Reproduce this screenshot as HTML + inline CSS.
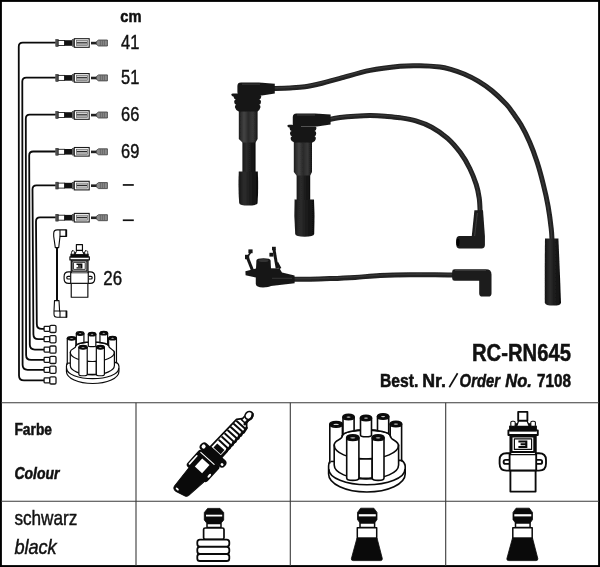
<!DOCTYPE html>
<html>
<head>
<meta charset="utf-8">
<title>RC-RN645</title>
<style>
html,body{margin:0;padding:0;background:#fff;}
body{width:600px;height:567px;overflow:hidden;font-family:"Liberation Sans",sans-serif;}
svg{display:block;will-change:transform;}
text{font-family:"Liberation Sans",sans-serif;fill:#111;}
.b{font-weight:bold;}
.i{font-style:italic;}
</style>
</head>
<body>
<svg width="600" height="567" viewBox="0 0 600 567">
<rect x="0" y="0" width="600" height="567" fill="#fff"/>
<!-- FRAME -->
<g id="frame" fill="none" stroke="#000">
<rect x="0.95" y="0.95" width="598.1" height="565.1" stroke-width="1.9"/>
<g stroke="#3a3a3a" stroke-width="1.1">
<line x1="1" y1="402.8" x2="599" y2="402.8"/>
<line x1="1" y1="501.2" x2="599" y2="501.2"/>
<line x1="136" y1="402.8" x2="136" y2="566"/>
<line x1="290.3" y1="402.8" x2="290.3" y2="566"/>
<line x1="445.7" y1="402.8" x2="445.7" y2="566"/>
</g>
</g>
<!-- TEXT -->
<g id="labels" stroke="#111" stroke-width="0.55">
<text class="b" x="120.3" y="22.4" font-size="17" textLength="21.2" lengthAdjust="spacingAndGlyphs">cm</text>
<g stroke-width="0.45">
<text x="121.1" y="49.0" font-size="20.4" textLength="18.3" lengthAdjust="spacingAndGlyphs">41</text>
<text x="121.1" y="83.8" font-size="20.4" textLength="18.3" lengthAdjust="spacingAndGlyphs">51</text>
<text x="121.1" y="121.1" font-size="20.4" textLength="18.3" lengthAdjust="spacingAndGlyphs">66</text>
<text x="121.1" y="157.9" font-size="20.4" textLength="18.3" lengthAdjust="spacingAndGlyphs">69</text>
<rect x="122.8" y="184.1" width="11" height="1.7" fill="#111" stroke="none"/>
<rect x="122.8" y="219.4" width="11" height="1.7" fill="#111" stroke="none"/>
<text x="103.3" y="284.8" font-size="20.4" textLength="18.8" lengthAdjust="spacingAndGlyphs">26</text>
<text x="14.4" y="525" font-size="20.2" textLength="63" lengthAdjust="spacingAndGlyphs">schwarz</text>
<text class="i" x="14.4" y="553.9" font-size="20.2" textLength="42.3" lengthAdjust="spacingAndGlyphs">black</text>
</g>
<text class="b" x="472" y="360.7" font-size="24.1" textLength="99" lengthAdjust="spacingAndGlyphs" stroke-width="0.5">RC-RN645</text>
<text class="b" x="380" y="386.9" font-size="18.6" textLength="38.3" lengthAdjust="spacingAndGlyphs">Best.</text>
<text class="b" x="422.3" y="386.9" font-size="18.6" textLength="23.7" lengthAdjust="spacingAndGlyphs">Nr.</text>
<line x1="449.3" y1="387.3" x2="457.6" y2="373.3" stroke-width="1.7"/>
<text class="b i" x="459.6" y="386.9" font-size="18.6" textLength="40.4" lengthAdjust="spacingAndGlyphs">Order</text>
<text class="b i" x="505.3" y="386.9" font-size="18.6" textLength="26.6" lengthAdjust="spacingAndGlyphs">No.</text>
<text class="b" x="537" y="386.9" font-size="18.6" textLength="34" lengthAdjust="spacingAndGlyphs">7108</text>
<text class="b" x="14.4" y="434.8" font-size="16.9" textLength="37.6" lengthAdjust="spacingAndGlyphs">Farbe</text>
<text class="b i" x="14.4" y="479.2" font-size="16.9" textLength="45" lengthAdjust="spacingAndGlyphs">Colour</text>
</g>
<!-- WIRING-DIAGRAM -->
<g id="wiring">
<defs>
<g id="conn">
<rect x="55.8" y="-3.4" width="2.4" height="6.8" fill="#555" stroke="#222" stroke-width="0.6"/>
<rect x="58.2" y="-2.5" width="6.4" height="5" fill="#fff" stroke="#222" stroke-width="0.9"/>
<rect x="64.4" y="-2.8" width="7.8" height="5.6" fill="#111"/>
<rect x="72.2" y="-3.3" width="1.8" height="6.6" fill="#777" stroke="#333" stroke-width="0.5"/>
<rect x="74.3" y="-4.3" width="14.9" height="8.6" fill="#fff" stroke="#1a1a1a" stroke-width="1.1"/>
<rect x="76.4" y="-2.5" width="11" height="5" fill="#d0d0d0" stroke="#666" stroke-width="0.7"/>
<line x1="76.8" y1="-0.2" x2="87" y2="-0.2" stroke="#2a2a2a" stroke-width="1.2"/>
<line x1="76.8" y1="1.5" x2="87" y2="1.5" stroke="#999" stroke-width="0.7"/>
<rect x="91" y="-1.2" width="5.6" height="2.6" fill="#222"/>
<path d="M96.4,-1.4L98.6,-3H107.4V3H98.6L96.4,1.4Z" fill="#8a8a8a" stroke="#3a3a3a" stroke-width="0.8"/>
<path d="M100.4,-2.7V2.7M102.4,-2.7V2.7M104.4,-2.7V2.7" stroke="#5a5a5a" stroke-width="0.7" fill="none"/>
</g>
<g id="coil" fill="#fff" stroke="#0a0a0a" stroke-linejoin="round" stroke-linecap="round">
<!-- lower body -->
<path d="M510.4,470.5V491.6H535.6V470.5"/>
<!-- bracket -->
<path d="M510,453.2H506.5Q499.6,453.2 499.6,460V463.5Q499.6,470.6 506.5,470.6H539Q546,470.6 546,463.5V460Q546,453.2 539,453.2H536"/>
<path d="M508.6,459.9H505.6Q503.6,459.9 503.6,461.9Q503.6,463.9 505.6,463.9H508.6" />
<path d="M537.4,459.9H540.2Q542.2,459.9 542.2,461.9Q542.2,463.9 540.2,463.9H537.4"/>
<rect x="509.6" y="454.2" width="26.6" height="16.2"/>
<!-- upper body -->
<path d="M510.4,454V435H535.8V454"/>
<rect x="511.6" y="436.6" width="22.6" height="15.4" />
<rect x="514.4" y="438.8" width="17.2" height="10.6" stroke-width="1.2"/>
<path d="M518.4,441.5H526.3V447H518.4M520.6,444.2H526.3" fill="none" stroke-width="2.1" stroke-linecap="butt" stroke-linejoin="miter"/>
<!-- lid -->
<rect x="508.4" y="430.4" width="29.4" height="4.6"/>
<rect x="510" y="426.3" width="26" height="4.2" fill="#0a0a0a"/>
<rect x="511.6" y="423.2" width="22.8" height="4" fill="#0a0a0a" stroke="none"/>
<!-- terminals -->
<rect x="510.8" y="421.2" width="4.4" height="5.2" rx="1.4" stroke-width="1.1"/>
<rect x="530.8" y="421.2" width="4.6" height="5.2" rx="1.4" stroke-width="1.1"/>
<!-- tower -->
<path d="M516.6,426.4L518.6,420.8H527L529.4,426.4Z" stroke-width="1.3"/>
<rect x="518.2" y="411.8" width="9.2" height="8.8"/>
</g>
<g id="cap" fill="#fff" stroke="#0a0a0a" stroke-linejoin="round" stroke-linecap="round">
<path d="M329.8,461.5Q328.6,463 328.6,466V474A38.3,18 0 0 0 405.2,474V466Q405.2,463 401.5,460.2Z"/>
<path d="M328.9,469.5A37.9,15.2 0 0 0 404.9,469.5" fill="none"/>
<path d="M329.8,424.3V463L342.4,436V424.3Z" stroke="none"/>
<path d="M329.8,424.3V463M342.4,436V424.3" fill="none"/>
<ellipse cx="336.10" cy="424.30" rx="6.30" ry="2.8" fill="#0a0a0a"/>
<ellipse cx="336.10" cy="424.40" rx="2.80" ry="0.65" fill="#cfcfcf" stroke="none"/>
<path d="M390.2,424.0V436L401.6,461V424.0Z" stroke="none"/>
<path d="M390.2,424.0V436M401.6,461V424.0" fill="none"/>
<ellipse cx="395.90" cy="424.00" rx="5.70" ry="2.8" fill="#0a0a0a"/>
<ellipse cx="395.90" cy="424.10" rx="2.20" ry="0.65" fill="#cfcfcf" stroke="none"/>
<path d="M342.4,435.4C342.4,440.5 334.2,439.5 334.2,445V465A32.2,14 0 0 0 398.6,465V446C398.6,440 390.2,440.5 390.2,435.4A24,6.1 0 0 0 342.4,435.4Z"/>
<path d="M334.2,445A32.2,14 0 0 0 398.6,445" fill="none"/>
<path d="M343,417.0V433L354.1,430.2V417.0Z" stroke="none"/>
<path d="M343,417.0V433M354.1,430.2V417.0" fill="none"/>
<ellipse cx="348.55" cy="417.00" rx="5.55" ry="2.8" fill="#0a0a0a"/>
<ellipse cx="348.55" cy="417.10" rx="2.05" ry="0.65" fill="#cfcfcf" stroke="none"/>
<path d="M377.5,416.5V430.4L388.7,432.6V416.5Z" stroke="none"/>
<path d="M377.5,416.5V430.4M388.7,432.6V416.5" fill="none"/>
<ellipse cx="383.10" cy="416.50" rx="5.60" ry="2.8" fill="#0a0a0a"/>
<ellipse cx="383.10" cy="416.60" rx="2.10" ry="0.65" fill="#cfcfcf" stroke="none"/>
<path d="M342.4,435.4A24,6.1 0 0 1 390.2,435.4" fill="none"/>
<path d="M360.5,418.0V435.2A5.50,1.6 0 0 0 371.5,435.2V418.0Z"/>
<ellipse cx="366.00" cy="418.00" rx="5.50" ry="2.8" fill="#0a0a0a"/>
<ellipse cx="366.00" cy="418.10" rx="2.00" ry="0.65" fill="#cfcfcf" stroke="none"/>
<path d="M358.9,458.6Q365.5,459.3 372.2,458.6V477.8Q365.5,478.9 358.9,477.8Z"/>
<path d="M346.7,437.7V478A6.10,2.4 0 0 0 358.9,478V437.7Z"/>
<ellipse cx="352.80" cy="437.70" rx="6.10" ry="2.8" fill="#0a0a0a"/>
<ellipse cx="352.80" cy="437.80" rx="2.60" ry="0.65" fill="#cfcfcf" stroke="none"/>
<path d="M372.2,437.7V478A5.90,2.4 0 0 0 384,478V437.7Z"/>
<ellipse cx="378.10" cy="437.70" rx="5.90" ry="2.8" fill="#0a0a0a"/>
<ellipse cx="378.10" cy="437.80" rx="2.40" ry="0.65" fill="#cfcfcf" stroke="none"/>
</g>
<g id="bconn">
<rect x="44.1" y="-2.5" width="5.6" height="5" rx="0.8" fill="#fff" stroke="#151515" stroke-width="1.3"/>
<rect x="49.8" y="-3.6" width="6.2" height="7.2" rx="1.3" fill="#fff" stroke="#151515" stroke-width="1.3"/>
</g>
</defs>
<g fill="none" stroke="#0a0a0a" stroke-width="1.8">
<path d="M55.6,42.7 H22.75 Q18.75,42.7 18.75,46.70 L19.0,375.40 Q19.0,380.4 24.00,380.4 H44"/>
<path d="M55.6,77.6 H26.30 Q22.3,77.6 22.3,81.60 L22.6,364.80 Q22.6,369.8 27.60,369.8 H44"/>
<path d="M55.6,114.7 H29.80 Q25.8,114.7 25.8,118.70 L26.1,354.90 Q26.1,359.9 31.10,359.9 H44"/>
<path d="M55.6,151.5 H33.20 Q29.2,151.5 29.2,155.50 L29.8,344.60 Q29.8,349.6 34.80,349.6 H44"/>
<path d="M55.6,185.3 H36.50 Q32.5,185.3 32.5,189.30 L33.4,334.20 Q33.4,339.2 38.40,339.2 H44"/>
<path d="M55.6,217.4 H40.00 Q36.0,217.4 36.0,221.40 L36.8,323.90 Q36.8,328.9 41.80,328.9 H44"/>
</g>
<use href="#conn" y="43.0"/>
<use href="#conn" y="77.9"/>
<use href="#conn" y="115.0"/>
<use href="#conn" y="151.8"/>
<use href="#conn" y="185.6"/>
<use href="#conn" y="217.7"/>
<use href="#bconn" y="380.4"/>
<use href="#bconn" y="369.8"/>
<use href="#bconn" y="359.9"/>
<use href="#bconn" y="349.6"/>
<use href="#bconn" y="339.2"/>
<use href="#bconn" y="328.9"/>
</g>
<g stroke-width="1.75" transform="translate(-265.63,-27.19) scale(0.66)"><use href="#coil"/></g>
<g id="coil-lead" fill="#fff" stroke="#0a0a0a" stroke-width="1.1" stroke-linejoin="round">
<line x1="57" y1="247" x2="57" y2="301" stroke-width="2"/>
<path d="M66.2,229.9H57.2Q53.7,229.9 53.7,233.4V236.4L55.3,247.6H58.7L60,236.4H66.2Z"/>
<path d="M60,229.9V236.4" fill="none"/>
<path d="M66.3,229.6V236.7" stroke-width="1.7" fill="none"/>
<path d="M66.4,317.3H57.2Q54,317.3 54,314V311L54.5,300.6H59L59.6,311H66.4Z"/>
<path d="M60,311V317.3M54,311H59.6" fill="none"/>
<path d="M66.5,310.7V317.6" stroke-width="1.7" fill="none"/>
</g>
<g stroke-width="1.75" transform="translate(-158.63,55.36) scale(0.685,0.667)"><use href="#cap"/></g>
<!-- /WIRING-DIAGRAM -->
<!-- PHOTO -->
<g id="photo" filter="url(#soft)">
<defs>
<filter id="soft" x="220" y="50" width="360" height="270" filterUnits="userSpaceOnUse"><feGaussianBlur stdDeviation="0.35"/></filter>
<linearGradient id="gv" x1="0" y1="0" x2="1" y2="0">
<stop offset="0" stop-color="#161616"/><stop offset="0.3" stop-color="#2c2c2c"/><stop offset="0.6" stop-color="#1c1c1c"/><stop offset="1" stop-color="#0e0e0e"/>
</linearGradient>
<linearGradient id="gv2" x1="0" y1="0" x2="1" y2="0">
<stop offset="0" stop-color="#1c1c1c"/><stop offset="0.28" stop-color="#444"/><stop offset="0.5" stop-color="#2a2a2a"/><stop offset="0.75" stop-color="#383838"/><stop offset="1" stop-color="#161616"/>
</linearGradient>
<linearGradient id="gh" x1="0" y1="0" x2="0" y2="1">
<stop offset="0" stop-color="#161616"/><stop offset="0.35" stop-color="#333"/><stop offset="1" stop-color="#0c0c0c"/>
</linearGradient>
</defs>
<path d="M272.0,88.6C275.0,88.5 284.5,88.3 290.0,88.0C295.5,87.7 299.7,87.6 305.0,86.8C310.3,86.0 316.2,84.6 322.0,83.2C327.8,81.8 332.0,80.5 340.0,78.4C348.0,76.3 360.0,72.4 370.0,70.4C380.0,68.4 391.7,67.1 400.0,66.3C408.3,65.5 413.3,65.7 420.0,65.8C426.7,65.9 435.0,66.5 440.0,67.0C445.0,67.5 446.0,67.9 450.0,69.1C454.0,70.3 459.4,72.0 464.1,74.0C468.8,76.0 473.5,78.3 478.2,81.1C482.9,83.9 487.6,87.1 492.3,91.0C497.0,94.9 502.9,100.7 506.4,104.4C509.8,108.1 510.6,109.6 513.0,113.0C515.4,116.4 518.2,119.9 521.0,124.7C523.8,129.5 526.9,135.8 529.6,142.0C532.3,148.2 534.7,154.7 537.0,161.7C539.3,168.7 541.4,176.6 543.2,184.0C545.1,191.4 546.8,198.8 548.1,206.2C549.4,213.6 550.6,222.8 551.2,228.4C551.9,234.0 551.9,238.1 552.0,240.0" fill="none" stroke="#202020" stroke-width="5" stroke-linecap="round"/>
<path d="M272.0,88.6C275.0,88.5 284.5,88.3 290.0,88.0C295.5,87.7 299.7,87.6 305.0,86.8C310.3,86.0 316.2,84.6 322.0,83.2C327.8,81.8 332.0,80.5 340.0,78.4C348.0,76.3 360.0,72.4 370.0,70.4C380.0,68.4 391.7,67.1 400.0,66.3C408.3,65.5 413.3,65.7 420.0,65.8C426.7,65.9 435.0,66.5 440.0,67.0C445.0,67.5 446.0,67.9 450.0,69.1C454.0,70.3 459.4,72.0 464.1,74.0C468.8,76.0 473.5,78.3 478.2,81.1C482.9,83.9 487.6,87.1 492.3,91.0C497.0,94.9 502.9,100.7 506.4,104.4C509.8,108.1 510.6,109.6 513.0,113.0C515.4,116.4 518.2,119.9 521.0,124.7C523.8,129.5 526.9,135.8 529.6,142.0C532.3,148.2 534.7,154.7 537.0,161.7C539.3,168.7 541.4,176.6 543.2,184.0C545.1,191.4 546.8,198.8 548.1,206.2C549.4,213.6 550.6,222.8 551.2,228.4C551.9,234.0 551.9,238.1 552.0,240.0" fill="none" stroke="#343434" stroke-width="1.6" stroke-linecap="round" transform="translate(-0.3,-0.6)"/>
<path d="M328.0,119.8C330.0,119.4 335.5,118.2 340.0,117.6C344.5,117.0 350.0,116.5 355.0,116.2C360.0,115.9 365.0,115.6 370.0,115.6C375.0,115.6 380.0,115.8 385.0,116.2C390.0,116.6 394.9,116.9 400.0,117.7C405.1,118.5 410.6,119.3 415.9,120.9C421.2,122.5 426.4,124.3 431.7,127.2C437.0,130.1 442.8,134.1 447.6,138.3C452.4,142.5 456.6,147.6 460.3,152.6C464.0,157.6 467.2,163.2 469.8,168.5C472.4,173.8 474.6,179.5 476.2,184.4C477.8,189.3 478.5,193.4 479.2,198.0C479.9,202.6 480.0,209.7 480.1,212.0" fill="none" stroke="#202020" stroke-width="5" stroke-linecap="round"/>
<path d="M328.0,119.8C330.0,119.4 335.5,118.2 340.0,117.6C344.5,117.0 350.0,116.5 355.0,116.2C360.0,115.9 365.0,115.6 370.0,115.6C375.0,115.6 380.0,115.8 385.0,116.2C390.0,116.6 394.9,116.9 400.0,117.7C405.1,118.5 410.6,119.3 415.9,120.9C421.2,122.5 426.4,124.3 431.7,127.2C437.0,130.1 442.8,134.1 447.6,138.3C452.4,142.5 456.6,147.6 460.3,152.6C464.0,157.6 467.2,163.2 469.8,168.5C472.4,173.8 474.6,179.5 476.2,184.4C477.8,189.3 478.5,193.4 479.2,198.0C479.9,202.6 480.0,209.7 480.1,212.0" fill="none" stroke="#343434" stroke-width="1.6" stroke-linecap="round" transform="translate(-0.3,-0.6)"/>
<path d="M292.0,279.2C295.0,279.2 303.7,279.3 310.0,279.2C316.3,279.1 322.5,278.9 330.0,278.6C337.5,278.3 346.7,277.9 355.0,277.4C363.3,276.9 370.8,276.0 380.0,275.6C389.2,275.2 400.8,274.9 410.0,274.8C419.2,274.7 427.7,274.8 435.0,274.8C442.3,274.8 450.8,275.0 454.0,275.0" fill="none" stroke="#202020" stroke-width="5" stroke-linecap="round"/>
<path d="M292.0,279.2C295.0,279.2 303.7,279.3 310.0,279.2C316.3,279.1 322.5,278.9 330.0,278.6C337.5,278.3 346.7,277.9 355.0,277.4C363.3,276.9 370.8,276.0 380.0,275.6C389.2,275.2 400.8,274.9 410.0,274.8C419.2,274.7 427.7,274.8 435.0,274.8C442.3,274.8 450.8,275.0 454.0,275.0" fill="none" stroke="#343434" stroke-width="1.6" stroke-linecap="round" transform="translate(-0.3,-0.6)"/>
<g id="pboot1">
<path d="M242.4,140H255.6V172H242.4Z" fill="url(#gv)"/>
<path d="M238.8,111H257.6V139L255.6,142.5H242.4L238.8,139Z" fill="url(#gv2)"/>
<path d="M238.8,171.5H257.8Q258.6,188 257.6,203Q257,205.6 248.3,205.6Q239.6,205.6 239.2,203Q238,188 238.8,171.5Z" fill="url(#gv)"/>
<path d="M233.6,97Q233.2,95 235.2,95H259.6Q261.6,95 261.2,97Q260.8,99.2 259.2,99.6Q261.2,100 261,102Q260.8,104.4 259.2,104.8Q260.8,105.4 260.4,107.6Q259.8,110.4 257.4,111.4H238.8Q235.6,110.4 235,107.6Q234.6,105.4 236.2,104.8Q234.4,104.4 234.2,102Q234,100 235.8,99.6Q234,99.2 233.6,97Z" fill="#161616"/>
<path d="M231.4,94.6Q231.4,93.6 233,93.6H246V96.4H233Q231.4,96.2 231.4,94.6Z" fill="#151515"/>
<path d="M237.4,86Q237.4,82.6 241,82.6H259L274.8,83.8V93.6L262,95.4H241Q237.4,95.4 237.4,92Z" fill="#181818"/>
<path d="M242,84.2H260" stroke="#3a3a3a" stroke-width="1" fill="none"/>
</g>
<g id="pboot2">
<path d="M296.6,173H310.2V200H296.6Z" fill="url(#gv)"/>
<path d="M293.8,142H312V172L310.2,175.5H296.6L293.8,172Z" fill="url(#gv2)"/>
<path d="M294.8,199.6H314Q315,216 314.2,234Q313.6,236.8 304.6,236.8Q295.6,236.8 295.2,234Q293.8,216 294.6,198.6Z" fill="url(#gv)"/>
<path d="M289.6,128.4Q289.2,126.4 291.2,126.4H315Q316.8,126.4 316.4,128.4Q316,130.6 314.6,131Q316.4,131.4 316.2,133.4Q316,135.8 314.6,136.2Q316.2,136.8 315.8,139Q315.4,141.4 312.6,142.4H294.4Q291,141.4 290.6,139Q290.4,136.8 292,136.2Q290.2,135.8 290,133.4Q289.8,131.4 291.6,131Q289.8,130.6 289.6,128.4Z" fill="#161616"/>
<path d="M287.4,125.8Q287.4,124.8 289,124.8H301V127.6H289Q287.4,127.4 287.4,125.8Z" fill="#151515"/>
<path d="M292.8,117Q292.8,113.4 296.4,113.4H315L330.6,114.6V124.6L317,126.6H296.4Q292.8,126.6 292.8,123.2Z" fill="#181818"/>
<path d="M297,115H315" stroke="#3a3a3a" stroke-width="1" fill="none"/>
</g>
<g id="pelbow2">
<path d="M474.4,210.2H483L484.9,236V245Q484.9,248.4 481.6,248.4H459Q456,248.4 456,242.2Q456,236 459,236H471.8Z" fill="#1a1a1a"/>
<ellipse cx="458" cy="242.2" rx="1.5" ry="3.8" fill="#000"/>
<path d="M477.4,213L474.6,236" stroke="#3a3a3a" stroke-width="1.2" fill="none"/>
</g>
<g id="pelbow3">
<path d="M452.2,271.4Q452.2,269.2 454.6,269.2H486Q491.5,269.2 491.5,274.6V293.4Q491.5,296.5 488.4,296.5H482.4Q479.2,296.5 479.2,293.4V280.8H454.6Q452.2,280.8 452.2,278.6Z" fill="#1a1a1a"/>
<path d="M455,270.4H486" stroke="#3a3a3a" stroke-width="1.1" fill="none"/>
</g>
<g id="pboot-long">
<path d="M545,238.4H558.4Q559.8,270 561,302.4Q561,305.6 553.4,305.6Q545.2,305.6 544.8,302.4Q544.6,270 545,238.4Z" fill="url(#gv)"/>
</g>
<g id="pclip">
<path d="M245.4,271.2L256,268.4L256.4,260.6Q256.6,258.2 263.5,258.2Q270.4,258.2 270.6,260.6L271,268.2L279.6,268.6L282,272.6L294.6,275.4V283.2L271,286Q269,287.4 263,287.4Q256,287.4 255.8,284V277.4L245.6,275.2Z" fill="#171717"/>
<ellipse cx="263.5" cy="260.6" rx="5" ry="1.5" fill="#333"/>
<path d="M272,278.4H292" stroke="#2f2f2f" stroke-width="1.2" fill="none"/>
<path d="M247.6,258L252.6,270.6" stroke="#181818" stroke-width="3" fill="none"/>
<rect x="248.4" y="249.4" width="4.2" height="3.8" fill="#181818"/>
<rect x="245" y="254.8" width="4.2" height="4.4" fill="#181818"/>
<path d="M250.6,252.6L248,256" stroke="#181818" stroke-width="1.6" fill="none"/>
<path d="M274,249.6L277.2,268.6" stroke="#181818" stroke-width="3" fill="none"/>
<rect x="272" y="246.8" width="3.8" height="3.4" fill="#181818"/>
<rect x="269.4" y="252.8" width="4" height="3.8" fill="#181818"/>
<path d="M277,262.6L280.2,268.6" stroke="#181818" stroke-width="2.6" fill="none"/>
</g>
</g>
<!-- /PHOTO -->
<!-- ICONS -->
<g id="icons">
<g stroke-width="1.85"><use href="#coil"/></g>
<g stroke-width="1.6"><use href="#cap"/></g>
<g id="boot1" stroke="#0a0a0a" stroke-linejoin="round">
<path d="M207.6,508.4H220L223.7,512.6V520L220.8,523.4H207L204.3,520V512.6Z" fill="#0a0a0a" stroke-width="0.8"/>
<rect x="206" y="514.7" width="16.2" height="1.8" fill="#fff" stroke="none"/>
<rect x="207" y="523.4" width="14" height="4.2" fill="#fff" stroke-width="1.5"/>
<rect x="203.6" y="528" width="20.4" height="11.4" rx="1.6" fill="#fff" stroke-width="1.7"/>
<rect x="197.3" y="539.6" width="32" height="7" rx="2.6" fill="#fff" stroke-width="1.8"/>
<rect x="197.3" y="546.8" width="32" height="7" rx="2.6" fill="#fff" stroke-width="1.8"/>
<rect x="197.3" y="554" width="32" height="7" rx="2.6" fill="#fff" stroke-width="1.8"/>
</g>
<g id="boot2" stroke="#0a0a0a" stroke-linejoin="round">
<path d="M360.6,508.2H373.8L377,512.4V519.6L374.6,523H360L357.5,519.6V512.4Z" fill="#0a0a0a" stroke-width="0.8"/>
<rect x="358.8" y="514.2" width="17" height="2.2" fill="#fff" stroke="none"/>
<rect x="360" y="523" width="14.6" height="4.4" fill="#fff" stroke-width="1.5"/>
<rect x="357.3" y="527.8" width="19.4" height="10.4" fill="#fff" stroke-width="1.5"/>
<path d="M357,538H377L382.3,558.5Q382.6,560.6 380.6,560.6H353.2Q351,560.6 351.4,558.5Z" fill="#0a0a0a" stroke-width="0.8"/>
</g>
<use href="#boot2" x="155.5"/>
<g id="plug" transform="translate(181,490.5) rotate(-47.8)" stroke-linejoin="round" stroke-linecap="round">
<!-- thread -->
<path d="M-1,-7.8Q-4.4,-7.2 -4,-3.4L-1.2,6.8Q-0.6,8.6 1.6,8.9L26,11.6V-9.6Z" fill="#0a0a0a" stroke="#0a0a0a" stroke-width="1"/>
<ellipse cx="-1.4" cy="-3.8" rx="0.9" ry="1.9" fill="#fff"/>
<!-- hex -->
<rect x="22" y="-13.8" width="22" height="27.4" rx="3" fill="#0a0a0a"/>
<path d="M27,-5.8H38V4H27Z" fill="#fff"/>
<path d="M25.4,-11.6H36.4" stroke="#fff" stroke-width="1.6" fill="none"/>
<ellipse cx="30" cy="11" rx="2.4" ry="1.1" fill="#fff"/>
<path d="M41.6,-11V7" stroke="#fff" stroke-width="1.1" fill="none"/>
<!-- collar -->
<rect x="43.4" y="-16.4" width="8.8" height="32.6" rx="4" fill="#0a0a0a"/>
<ellipse cx="47.8" cy="-12.8" rx="2.1" ry="2" fill="#fff"/>
<ellipse cx="46.8" cy="13" rx="1.4" ry="1.5" fill="#fff"/>
<!-- insulator -->
<path d="M52,-7.6L90,-6.6L94.4,-3V3L90,7L52,7.8Z" fill="#fff" stroke="#0a0a0a" stroke-width="1.7"/>
<path d="M52,7.1 L60,7.4 l2,-0.8 l2,0.8 l2.2,-0.8 l2.2,0.8 l2.2,-0.8 l2.2,0.8 l2.2,-0.8 l2.2,0.8 l2,-0.8 l2,0.8 l2,-0.8 l2,0.8 L90.4,6.4" stroke="#0a0a0a" stroke-width="2.6" fill="none"/>
<rect x="53.6" y="-4.8" width="5.6" height="9.8" fill="#0a0a0a"/>
<path d="M62.8,-5.4V6.2M67.2,-5.4V6.2M71.6,-5.4V6.2M76,-5.4V6.2M80.4,-5.4V6.2M84.8,-5.4V6.2M88.8,-5V5.4" stroke="#0a0a0a" stroke-width="2" fill="none"/>
<!-- stud + ball -->
<path d="M93,-2.7H98V2.7H93Z" fill="#fff" stroke="#0a0a0a" stroke-width="1.5"/>
<path d="M92,2.6H98" stroke="#0a0a0a" stroke-width="2.6"/>
<ellipse cx="101.2" cy="0" rx="4.2" ry="3.7" fill="#fff" stroke="#0a0a0a" stroke-width="1.7"/>
<path d="M98.6,3.2Q102,4.2 104.8,1.6" stroke="#0a0a0a" stroke-width="2.2" fill="none"/>
</g>
<!-- ICONS-MORE -->
</g>
</svg>
</body>
</html>
